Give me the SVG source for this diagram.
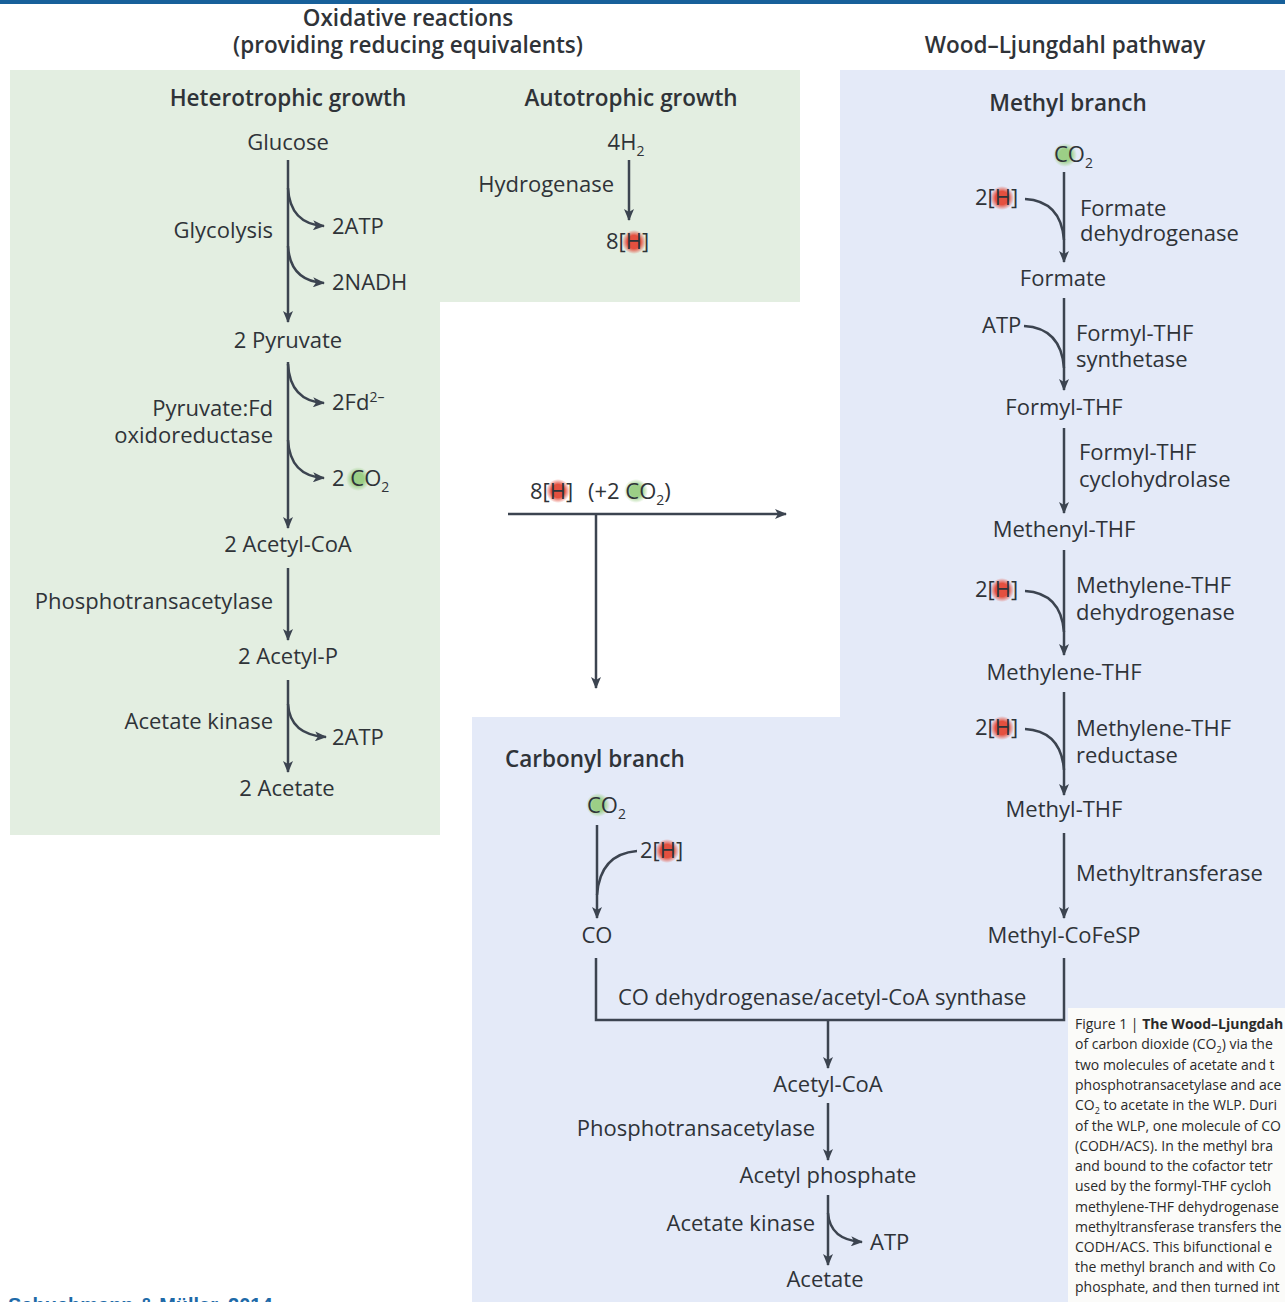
<svg xmlns="http://www.w3.org/2000/svg" width="1285" height="1302" viewBox="0 0 1285 1302">
<defs>
<marker id="ah" viewBox="0 0 12 10" refX="11" refY="5" markerWidth="12" markerHeight="10" markerUnits="userSpaceOnUse" orient="auto">
<path d="M0,0 L12,5 L0,10 L3,5 Z" fill="#3c4450"/>
</marker>
<radialGradient id="rg"><stop offset="0.55" stop-color="#e4503f"/><stop offset="1" stop-color="#e4503f" stop-opacity="0"/></radialGradient>
<radialGradient id="gg"><stop offset="0.5" stop-color="#9ccf86"/><stop offset="1" stop-color="#9ccf86" stop-opacity="0"/></radialGradient>
<clipPath id="capclip"><rect x="1068" y="1008" width="217" height="294"/></clipPath>
</defs>
<style>
text{font-family:"Open Sans","Noto Sans",sans-serif;fill:#2f3338;font-size:22px}
.b{font-weight:bold}
.m{text-anchor:middle}
.e{text-anchor:end}
.hd{font-size:22.5px;font-weight:600;text-anchor:middle}
.sub{font-size:14px}
.cap{font-size:14px;fill:#2a2a2a}
.ln{stroke:#3c4450;stroke-width:2.5;fill:none}
.ar{stroke:#3c4450;stroke-width:2.5;fill:none;marker-end:url(#ah)}
.rh{fill:url(#rg)}
.gc{fill:url(#gg)}
.cite{font-family:"Liberation Sans",Arial,sans-serif;font-weight:bold;fill:#1e6aa8;font-size:20px}
</style>
<rect x="0" y="0" width="1285" height="1302" fill="#ffffff"/>
<rect x="0" y="0" width="1285" height="4" fill="#17609a"/>
<g id="bg-green"><path d="M10,70 H800 V302 H440 V835 H10 Z" fill="#e3eee1"/></g>
<g id="bg-blue"><path d="M840,70 H1285 V1302 H472 V717 H840 Z" fill="#e4eaf8"/></g>
<g id="caption-box"><rect x="1068" y="1008" width="217" height="294" fill="#fbfbf9"/></g>

<g id="headers">
<text class="hd" x="408" y="26">Oxidative reactions</text>
<text class="hd" x="408" y="53">(providing reducing equivalents)</text>
<text class="hd" x="1065" y="53">Wood–Ljungdahl pathway</text>
<text class="hd" x="288" y="106">Heterotrophic growth</text>
<text class="hd" x="631" y="106">Autotrophic growth</text>
<text class="hd" x="1068" y="111">Methyl branch</text>
<text x="505" y="767" style="font-weight:600;font-size:22.5px">Carbonyl branch</text>
</g>

<g id="connectors">
<path class="ar" d="M288,160 V322"/>
<path class="ar" d="M288,188 Q290,224 324,226"/>
<path class="ar" d="M288,246 Q290,281 324,283"/>
<path class="ar" d="M288,362 V528"/>
<path class="ar" d="M288,364 Q290,401 324,403"/>
<path class="ar" d="M288,440 Q290,476 324,478"/>
<path class="ar" d="M288,568 V640"/>
<path class="ar" d="M288,680 V772"/>
<path class="ar" d="M288,704 Q290,735 326,737"/>
<path class="ar" d="M629,160 V220"/>
<path class="ar" d="M508,514 H786"/>
<path class="ar" d="M596,514 V688"/>
<path class="ar" d="M597,825 V918"/>
<path class="ln" d="M637,851 Q600,854 597,895"/>
<path class="ln" d="M596,958 V1020 H1064 V958"/>
<path class="ar" d="M828,1020 V1068"/>
<path class="ar" d="M828,1103 V1160"/>
<path class="ar" d="M828,1195 V1265"/>
<path class="ar" d="M828,1213 Q830,1240 862,1242"/>
<path class="ar" d="M1064,172 V262"/>
<path class="ln" d="M1025,199 Q1061,201 1064,240"/>
<path class="ar" d="M1064,298 V390"/>
<path class="ln" d="M1024,326 Q1061,328 1064,368"/>
<path class="ar" d="M1064,428 V513"/>
<path class="ar" d="M1064,550 V655"/>
<path class="ln" d="M1025,591 Q1061,593 1064,632"/>
<path class="ar" d="M1064,692 V795"/>
<path class="ln" d="M1025,729 Q1061,731 1064,770"/>
<path class="ar" d="M1064,833 V918"/>
</g>

<g id="n-glucose"><text class="m" x="288" y="150">Glucose</text></g>
<g id="n-glycolysis"><text class="e" x="273" y="238">Glycolysis</text>
<text x="332" y="234">2ATP</text><text x="332" y="290">2NADH</text></g>
<g id="n-pyruvate"><text class="m" x="288" y="348">2 Pyruvate</text></g>
<g id="n-pfor"><text class="e" x="273" y="416">Pyruvate:Fd</text><text class="e" x="273" y="443">oxidoreductase</text>
<text x="332" y="410">2Fd<tspan class="sub" dy="-8">2–</tspan></text>
<circle class="gc" cx="358" cy="479" r="12"/>
<text x="332" y="486">2 CO<tspan class="sub" dy="6">2</tspan></text></g>
<g id="n-acetylcoa2"><text class="m" x="288" y="552">2 Acetyl-CoA</text></g>
<g id="n-pta1"><text class="e" x="273" y="609">Phosphotransacetylase</text></g>
<g id="n-acetylp"><text class="m" x="288" y="664">2 Acetyl-P</text></g>
<g id="n-ak1"><text class="e" x="273" y="729">Acetate kinase</text><text x="332" y="745">2ATP</text></g>
<g id="n-acetate2"><text class="m" x="287" y="796">2 Acetate</text></g>

<g id="n-h2"><text class="m" x="626" y="150">4H<tspan class="sub" dy="6">2</tspan></text></g>
<g id="n-hydrogenase"><text class="e" x="614" y="192">Hydrogenase</text></g>
<g id="n-8h"><circle class="rh" cx="634" cy="242" r="12"/><text x="606" y="249">8[H]</text></g>

<g id="n-transfer"><circle class="rh" cx="558" cy="491" r="12"/><circle class="gc" cx="636" cy="491" r="12"/>
<text x="530" y="499">8[H]</text>
<text x="588" y="499">(+2 CO<tspan class="sub" dy="6">2</tspan><tspan dy="-6">)</tspan></text></g>

<g id="n-co2-carbonyl"><circle class="gc" cx="598" cy="805" r="12"/><text x="587" y="813">CO<tspan class="sub" dy="6">2</tspan></text></g>
<g id="n-2h-carbonyl"><circle class="rh" cx="667" cy="851" r="12"/><text x="640" y="858">2[H]</text></g>
<g id="n-co"><text class="m" x="597" y="943">CO</text></g>
<g id="n-codh"><text x="618" y="1005">CO dehydrogenase/acetyl-CoA synthase</text></g>
<g id="n-acetylcoa"><text class="m" x="828" y="1092">Acetyl-CoA</text></g>
<g id="n-pta2"><text class="e" x="815" y="1136">Phosphotransacetylase</text></g>
<g id="n-acetylphosphate"><text class="m" x="828" y="1183">Acetyl phosphate</text></g>
<g id="n-ak2"><text class="e" x="815" y="1231">Acetate kinase</text><text x="870" y="1250">ATP</text></g>
<g id="n-acetate"><text class="m" x="825" y="1287">Acetate</text></g>

<g id="n-co2-methyl"><circle class="gc" cx="1065" cy="155" r="12"/><text x="1054" y="162">CO<tspan class="sub" dy="6">2</tspan></text></g>
<g id="n-2h-a"><circle class="rh" cx="1002" cy="198" r="12"/><text x="975" y="205">2[H]</text></g>
<g id="n-fdh"><text x="1080" y="216">Formate</text><text x="1080" y="241">dehydrogenase</text></g>
<g id="n-formate"><text class="m" x="1063" y="286">Formate</text></g>
<g id="n-atp-m"><text x="982" y="333">ATP</text></g>
<g id="n-fths"><text x="1076" y="341">Formyl-THF</text><text x="1076" y="367">synthetase</text></g>
<g id="n-formylthf"><text class="m" x="1064" y="415">Formyl-THF</text></g>
<g id="n-fthc"><text x="1079" y="460">Formyl-THF</text><text x="1079" y="487">cyclohydrolase</text></g>
<g id="n-methenyl"><text class="m" x="1064" y="537">Methenyl-THF</text></g>
<g id="n-2h-b"><circle class="rh" cx="1002" cy="590" r="12"/><text x="975" y="597">2[H]</text></g>
<g id="n-mthfd"><text x="1076" y="593">Methylene-THF</text><text x="1076" y="620">dehydrogenase</text></g>
<g id="n-methylene"><text class="m" x="1064" y="680">Methylene-THF</text></g>
<g id="n-2h-c"><circle class="rh" cx="1002" cy="728" r="12"/><text x="975" y="735">2[H]</text></g>
<g id="n-mthfr"><text x="1076" y="736">Methylene-THF</text><text x="1076" y="763">reductase</text></g>
<g id="n-methylthf"><text class="m" x="1064" y="817">Methyl-THF</text></g>
<g id="n-mt"><text x="1076" y="881">Methyltransferase</text></g>
<g id="n-cofesp"><text class="m" x="1064" y="943">Methyl-CoFeSP</text></g>

<g id="caption" clip-path="url(#capclip)">
<text class="cap" x="1075" y="1029">Figure 1 | <tspan class="b">The Wood–Ljungdah</tspan></text>
<text class="cap" x="1075" y="1049">of carbon dioxide (CO<tspan font-size="9" dy="4">2</tspan><tspan dy="-4">) via the</tspan></text>
<text class="cap" x="1075" y="1070">two molecules of acetate and t</text>
<text class="cap" x="1075" y="1090">phosphotransacetylase and ace</text>
<text class="cap" x="1075" y="1110">CO<tspan font-size="9" dy="4">2</tspan><tspan dy="-4"> to acetate in the WLP. Duri</tspan></text>
<text class="cap" x="1075" y="1131">of the WLP, one molecule of CO</text>
<text class="cap" x="1075" y="1151">(CODH/ACS). In the methyl bra</text>
<text class="cap" x="1075" y="1171">and bound to the cofactor tetr</text>
<text class="cap" x="1075" y="1191">used by the formyl-THF cycloh</text>
<text class="cap" x="1075" y="1212">methylene-THF dehydrogenase</text>
<text class="cap" x="1075" y="1232">methyltransferase transfers the</text>
<text class="cap" x="1075" y="1252">CODH/ACS. This bifunctional e</text>
<text class="cap" x="1075" y="1272">the methyl branch and with Co</text>
<text class="cap" x="1075" y="1292">phosphate, and then turned int</text>
</g>

<g id="citation"><text class="cite" x="8" y="1312">Schuchmann &amp; Müller, 2014</text></g>
</svg>
